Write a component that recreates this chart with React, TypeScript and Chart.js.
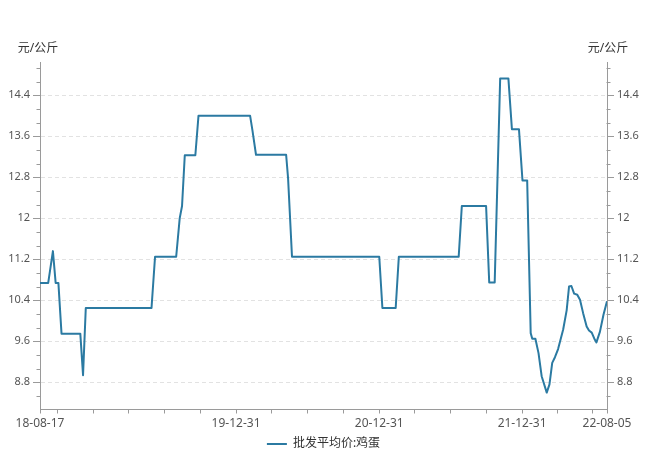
import React, { useEffect, useRef } from 'react';
import { Chart, registerables } from 'chart.js';

Chart.register(...registerables);

const dates: string[] = [
  '2018-08-17', '2018-09-07', '2018-09-19', '2018-09-26', '2018-10-03', '2018-10-11',
  '2018-11-28', '2018-12-05', '2018-12-12', '2019-05-29', '2019-06-07', '2019-07-31',
  '2019-08-09', '2019-08-15', '2019-08-22', '2019-09-18', '2019-09-26', '2020-02-05',
  '2020-02-11', '2020-02-20', '2020-05-07', '2020-05-12', '2020-05-22', '2020-12-31',
  '2021-01-08', '2021-02-11', '2021-02-19', '2021-07-22', '2021-07-30', '2021-09-30',
  '2021-10-08', '2021-10-22', '2021-11-05', '2021-11-26', '2021-12-05', '2021-12-23',
  '2022-01-01', '2022-01-13', '2022-01-22', '2022-01-26', '2022-02-03', '2022-02-11',
  '2022-02-19', '2022-03-04', '2022-03-11', '2022-03-18', '2022-03-25', '2022-04-02',
  '2022-04-15', '2022-04-24', '2022-04-30', '2022-05-06', '2022-05-13', '2022-05-21',
  '2022-05-28', '2022-06-05', '2022-06-14', '2022-06-20', '2022-06-27', '2022-07-05',
  '2022-07-09', '2022-07-18', '2022-07-27', '2022-08-05',
];

const prices: number[] = [
  10.74, 10.74, 11.36, 10.74, 10.74, 9.75,
  9.75, 8.94, 10.25, 10.25, 11.25, 11.25,
  12.0, 12.24, 13.23, 13.23, 14.0, 14.0,
  13.71, 13.24, 13.24, 12.78, 11.25, 11.25,
  10.25, 10.25, 11.25, 11.25, 12.24, 12.24,
  10.75, 10.75, 14.73, 14.73, 13.74, 13.74,
  12.74, 12.74, 9.76, 9.65, 9.65, 9.37,
  8.92, 8.6, 8.76, 9.18, 9.29, 9.45,
  9.83, 10.21, 10.67, 10.68, 10.53, 10.51,
  10.41, 10.15, 9.89, 9.81, 9.77, 9.63,
  9.58, 9.79, 10.12, 10.38,
];

const xTickDates: string[] = [
  '2018-08-17', '2018-09-30', '2018-12-31', '2019-03-31', '2019-06-30', '2019-09-30',
  '2019-12-31', '2020-03-31', '2020-06-30', '2020-09-30', '2020-12-31', '2021-03-31',
  '2021-06-30', '2021-09-30', '2021-12-31', '2022-03-31', '2022-06-30', '2022-08-05',
];
const xLabelDates: string[] = ['2018-08-17', '2019-12-31', '2020-12-31', '2021-12-31', '2022-08-05'];
const yMajorTicks: number[] = [8.8, 9.6, 10.4, 11.2, 12, 12.8, 13.6, 14.4];
const yMin = 8.27;
const yMax = 15.05;
const yUnit = '元/公斤';
const seriesName = '批发平均价:鸡蛋';

const AXIS = '#9a9a9a';
const TEXT = '#555';
const GRID = '#e2e2e2';
const LINE = '#2b7aa2';
const FONT = '"Noto Sans", "Noto Sans CJK SC", sans-serif';

const toTs = (s: string) => {
  const [y, m, d] = s.split('-').map(Number);
  return Date.UTC(y, m - 1, d);
};
const pad2 = (n: number) => String(n).padStart(2, '0');
const fmtDate = (t: number) => {
  const d = new Date(t);
  return `${String(d.getUTCFullYear()).slice(2)}-${pad2(d.getUTCMonth() + 1)}-${pad2(d.getUTCDate())}`;
};

export default function App() {
  const ref = useRef<HTMLCanvasElement>(null);

  useEffect(() => {
    const canvas = ref.current!;
    Chart.defaults.font.family = FONT;
    const labeled = new Set(xLabelDates.map(toTs));
    const isMajor = (v: number) => yMajorTicks.some((m) => Math.abs(m - v) < 1e-6);

    const extras = {
      id: 'extras',
      afterDraw(chart: any) {
        const ctx = chart.ctx as CanvasRenderingContext2D;
        const { left, right } = chart.chartArea;
        const ys = chart.scales.y;
        const step = (yMajorTicks[1] - yMajorTicks[0]) / 3;
        const vals: number[] = [];
        for (let v = yMajorTicks[0]; v >= yMin - 1e-6; v -= step) vals.push(v);
        for (let v = yMajorTicks[0] + step; v <= yMax + 1e-6; v += step) vals.push(v);
        ctx.save();
        ctx.strokeStyle = AXIS;
        ctx.lineWidth = 1;
        const lx = Math.round(left) + 0.5;
        const rx = Math.round(right) - 0.5;
        vals.forEach((v) => {
          if (isMajor(Number(v.toFixed(4)))) return;
          const p = Math.round(ys.getPixelForValue(v)) + 0.5;
          ctx.beginPath();
          ctx.moveTo(lx - 4, p);
          ctx.lineTo(lx, p);
          ctx.moveTo(rx, p);
          ctx.lineTo(rx + 4, p);
          ctx.stroke();
        });
        ctx.fillStyle = '#333';
        ctx.font = `12px ${FONT}`;
        ctx.textAlign = 'center';
        ctx.textBaseline = 'middle';
        ctx.fillText(yUnit, left - 2, 49);
        ctx.fillText(yUnit, right + 1, 49);
        ctx.restore();
      },
    };

    const yTickSetter = (scale: any) => {
      scale.ticks = yMajorTicks.map((v) => ({ value: v }));
    };
    const yFmt = (v: any) => String(Number(Number(v).toFixed(1)));

    const yCommon = (pos: 'left' | 'right', onArea: boolean) => ({
      type: 'linear' as const,
      position: pos,
      min: yMin,
      max: yMax,
      afterBuildTicks: yTickSetter,
      afterFit: (s: any) => {
        s.width = 40;
      },
      ticks: {
        callback: yFmt,
        color: TEXT,
        font: { size: 11, family: FONT },
        padding: 3,
        autoSkip: false,
      },
      grid: {
        drawOnChartArea: onArea,
        color: GRID,
        tickColor: AXIS,
        tickLength: 7,
        lineWidth: 1,
      },
      border: { color: AXIS, width: 1, dash: [4, 3] },
    });

    const chart = new Chart(canvas, {
      type: 'line',
      data: {
        datasets: [
          {
            label: seriesName,
            data: dates.map((d, i) => ({ x: toTs(d), y: prices[i] })),
            borderColor: LINE,
            backgroundColor: LINE,
            borderWidth: 2,
            pointRadius: 0,
            pointHoverRadius: 0,
            tension: 0,
            borderJoinStyle: 'round',
            fill: false,
            yAxisID: 'y',
          },
        ],
      },
      options: {
        animation: false,
        responsive: false,
        maintainAspectRatio: false,
        layout: { padding: { top: 62, bottom: -8, left: 0, right: 0 } },
        plugins: {
          legend: {
            position: 'bottom',
            labels: {
              usePointStyle: true,
              pointStyle: 'line',
              pointStyleWidth: 20,
              color: '#333',
              font: { size: 12, family: FONT },
              padding: 2,
            },
          },
          tooltip: { enabled: false },
        },
        scales: {
          x: {
            type: 'linear',
            min: toTs(dates[0]),
            max: toTs(dates[dates.length - 1]),
            afterBuildTicks: (scale: any) => {
              scale.ticks = xTickDates.map((s) => ({ value: toTs(s) }));
            },
            afterFit: (s: any) => {
              s.height = 26.5;
            },
            ticks: {
              autoSkip: false,
              maxRotation: 0,
              minRotation: 0,
              callback: (v: any) => (labeled.has(Number(v)) ? fmtDate(Number(v)) : ''),
              color: TEXT,
              font: { size: 12, family: FONT },
              padding: 3,
            },
            grid: { drawOnChartArea: false, color: AXIS, tickLength: 4 },
            border: { color: AXIS, width: 1 },
          },
          y: yCommon('left', true),
          y2: yCommon('right', false),
        },
      } as any,
      plugins: [extras],
    });
    return () => chart.destroy();
  }, []);

  return (
    <div style={{ position: 'fixed', left: 0, top: 0, width: 647, height: 452, background: '#fff' }}>
      <canvas ref={ref} width={647} height={452} style={{ display: 'block', width: 647, height: 452 }} />
    </div>
  );
}
